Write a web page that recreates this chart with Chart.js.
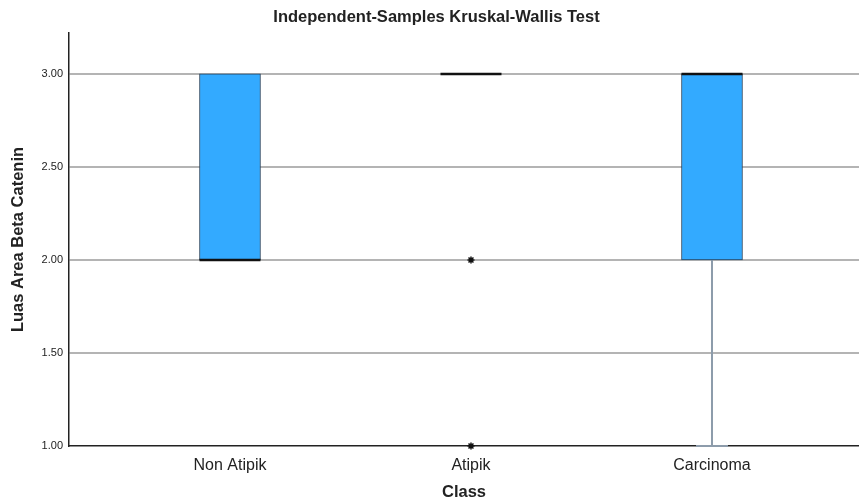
<!DOCTYPE html>
<html>
<head>
<meta charset="utf-8">
<script src="https://cdn.jsdelivr.net/npm/chart.js@4/dist/chart.umd.min.js"></script>
<style>
  html, body { margin: 0; padding: 0; background: #fff; }
  #wrap { width: 859px; height: 504px; position: relative; }
</style>
</head>
<body>
<div id="wrap"><canvas id="c"></canvas></div>
<script>
// ---- data ----
const categories = ["Non Atipik", "Atipik", "Carcinoma"];
const q1Values = [2.00, 3.00, 2.00];
const q3Values = [3.00, 3.00, 3.00];
const medianValues = [2.00, 3.00, 3.00];
const whiskerLow = [2.00, 3.00, 1.00];
const whiskerHigh = [3.00, 3.00, 3.00];
const outlierCategory = [1, 1];
const outlierValues = [2.00, 1.00];
const yTicks = [1.00, 1.50, 2.00, 2.50, 3.00];

const FONT = "'Liberation Sans', Arial, sans-serif";

const boxData = [];
categories.forEach((c, i) => {
  if (q3Values[i] !== q1Values[i]) boxData.push({ x: i, y: [q1Values[i], q3Values[i]] });
});
const medianData = categories.map((c, i) => ({ x: i, y: medianValues[i] }));
const whiskerSegs = [];
const capData = [];
categories.forEach((c, i) => {
  if (whiskerLow[i] < q1Values[i]) {
    whiskerSegs.push({ x: i, y: q1Values[i] }, { x: i, y: whiskerLow[i] }, { x: NaN, y: NaN });
    capData.push({ x: i, y: whiskerLow[i] });
  }
  if (whiskerHigh[i] > q3Values[i]) {
    whiskerSegs.push({ x: i, y: q3Values[i] }, { x: i, y: whiskerHigh[i] }, { x: NaN, y: NaN });
    capData.push({ x: i, y: whiskerHigh[i] });
  }
});
const outlierData = outlierValues.map((v, k) => ({ x: outlierCategory[k], y: v }));

new Chart(document.getElementById('c'), {
  type: 'bar',
  data: {
    datasets: [
      {
        type: 'line',
        data: whiskerSegs,
        borderColor: '#8d9cab',
        borderWidth: 2,
        pointRadius: 0,
        spanGaps: false,
        clip: false,
        order: 4
      },
      {
        type: 'scatter',
        data: capData,
        pointStyle: 'line',
        pointRadius: 16,
        borderColor: '#8d9cab',
        borderWidth: 2,
        clip: false,
        order: 3
      },
      {
        type: 'bar',
        data: boxData,
        barThickness: 61,
        backgroundColor: '#33aaff',
        borderColor: '#2a4660',
        borderWidth: 1,
        borderSkipped: false,
        order: 2
      },
      {
        type: 'scatter',
        data: medianData,
        pointStyle: 'line',
        pointRadius: 30.5,
        borderColor: '#111111',
        borderWidth: 2.5,
        clip: false,
        order: 1
      },
      {
        type: 'scatter',
        data: outlierData,
        pointStyle: 'star',
        pointRadius: 3.5,
        borderColor: '#111111',
        backgroundColor: '#111111',
        borderWidth: 1.5,
        clip: false,
        order: 0
      }
    ]
  },
  options: {
    responsive: true,
    maintainAspectRatio: false,
    animation: false,
    layout: { padding: { left: 14, right: 0, top: 0, bottom: 0 }, autoPadding: false },
    plugins: {
      legend: { display: false },
      tooltip: { enabled: false },
      title: {
        display: true,
        text: 'Independent-Samples Kruskal-Wallis Test',
        color: '#222',
        font: { family: FONT, size: 16.5, weight: 'bold' },
        padding: { top: 8, bottom: 5.2 }
      }
    },
    scales: {
      x: {
        type: 'linear',
        offset: false,
        min: -0.668,
        max: 2.61,
        afterBuildTicks: s => { s.ticks = categories.map((c, i) => ({ value: i })); },
        afterFit: s => { s.height = 58; },
        grid: { display: false, drawTicks: false, offset: false },
        border: { display: true, color: '#222', width: 1.5 },
        ticks: {
          callback: v => categories[v],
          color: '#222',
          padding: 10,
          autoSkip: false,
          maxRotation: 0,
          font: { family: FONT, size: 16 }
        },
        title: {
          display: true,
          text: 'Class',
          color: '#222',
          font: { family: FONT, size: 16.5, weight: 'bold' },
          padding: { top: 0, bottom: 1.6 }
        }
      },
      y: {
        type: 'linear',
        min: 1,
        max: 3.22,
        afterBuildTicks: s => { s.ticks = yTicks.map(v => ({ value: v })); },
        afterFit: s => { s.width = 55; },
        grid: {
          drawTicks: false,
          color: ctx => (ctx.tick && ctx.tick.value === 1 ? 'rgba(0,0,0,0)' : '#b4b4b4'),
          lineWidth: 2
        },
        border: { display: true, color: '#222', width: 1.5 },
        ticks: {
          callback: v => v.toFixed(2),
          color: '#222',
          padding: 6,
          font: { family: FONT, size: 11 }
        },
        title: {
          display: true,
          text: 'Luas Area Beta Catenin',
          color: '#222',
          font: { family: FONT, size: 16.5, weight: 'bold' },
          padding: { top: -5.9, bottom: 0 }
        }
      }
    }
  }
});
</script>
</body>
</html>
